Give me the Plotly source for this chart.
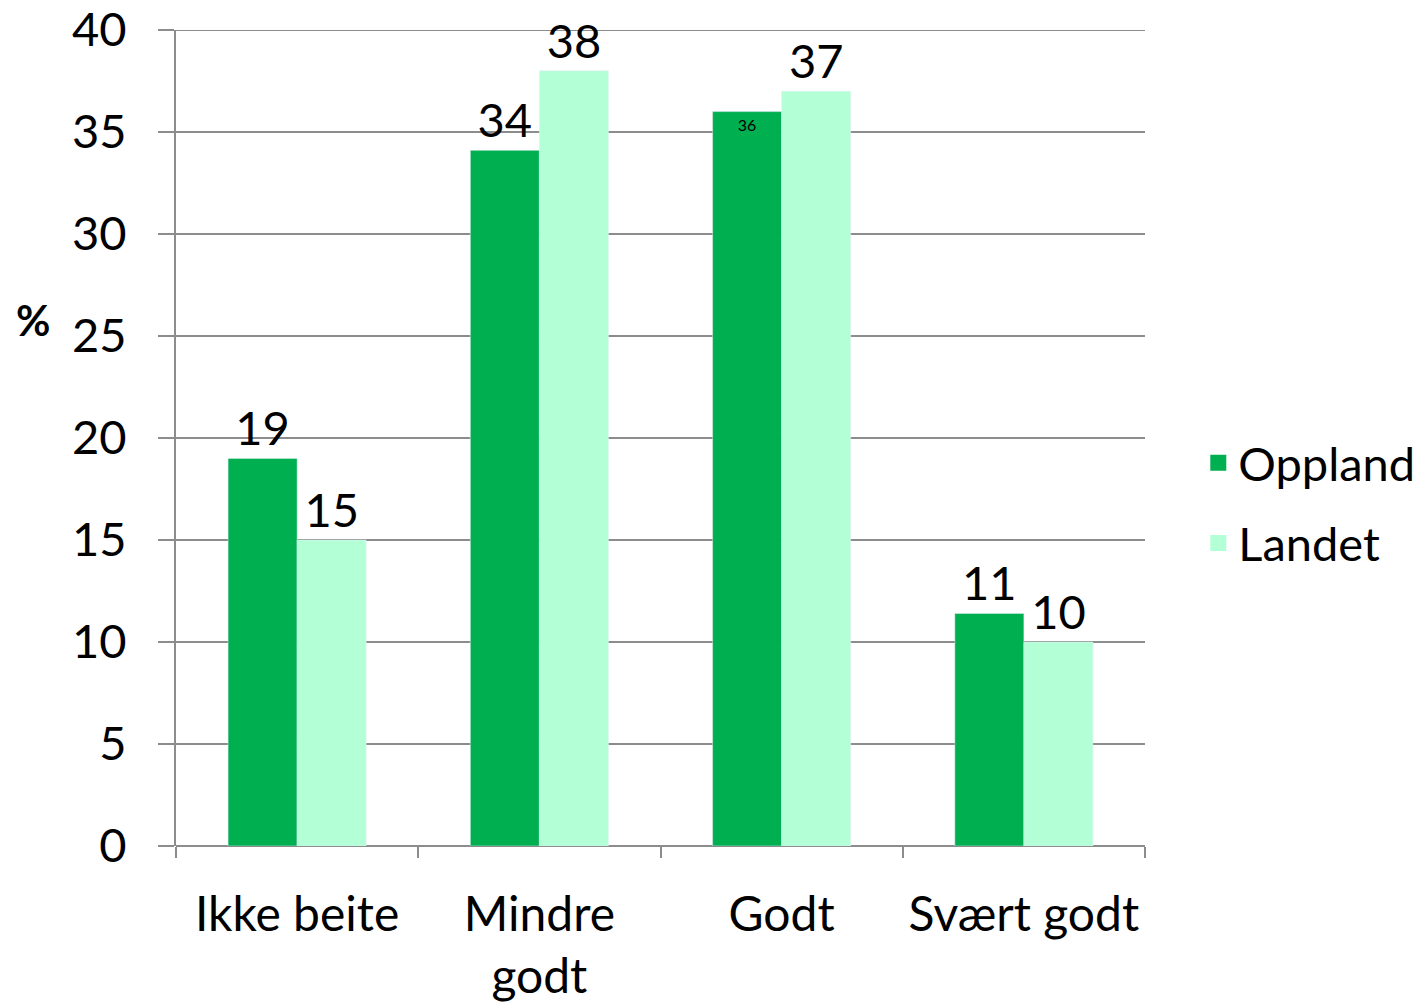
import plotly.graph_objects as go

categories = ["Ikke beite", "Mindre<br>godt", "Godt", "Svært godt"]
oppland = [19, 34.1, 36, 11.4]
landet = [15, 38, 37, 10]
oppland_labels = ["19", "34", "36", "11"]
landet_labels = ["15", "38", "37", "10"]
y_ticks = [0, 5, 10, 15, 20, 25, 30, 35, 40]

FONT = "Lato"
C_OPP = "#00B050"
C_LAN = "#B3FFD6"
GRID = "#8C8C8C"

fig = go.Figure()
fig.add_trace(go.Bar(
    x=categories, y=oppland, name="Oppland", marker_color=C_OPP,
    text=oppland_labels,
    textposition=["outside", "outside", "inside", "outside"],
    insidetextanchor="end",
    textfont=dict(family=FONT, size=[47, 47, 16, 47], color="black"),
    cliponaxis=False, showlegend=False, legendgroup="a",
))
fig.add_trace(go.Bar(
    x=categories, y=landet, name="Landet", marker_color=C_LAN,
    text=landet_labels, textposition="outside",
    textfont=dict(family=FONT, size=47, color="black"),
    cliponaxis=False, showlegend=False, legendgroup="b",
))
# legend entries
fig.add_trace(go.Scatter(x=[None], y=[None], mode="markers", name="Oppland",
                         marker=dict(symbol="square", size=30, color=C_OPP), legendgroup="a"))
fig.add_trace(go.Scatter(x=[None], y=[None], mode="markers", name="Landet",
                         marker=dict(symbol="square", size=30, color=C_LAN), legendgroup="b"))

fig.update_layout(
    width=1428, height=1006,
    margin=dict(l=168, r=291, t=22, b=168, autoexpand=False),
    paper_bgcolor="white", plot_bgcolor="white",
    barmode="group", bargap=0.43, bargroupgap=0,
    font=dict(family=FONT, size=46, color="black"),
    legend=dict(x=1.055, xanchor="left", y=0.42, yanchor="middle",
                font=dict(family=FONT, size=47, color="black"),
                itemsizing="trace", tracegroupgap=16, traceorder="grouped"),
    xaxis=dict(showline=False, ticks="outside", tickson="boundaries",
               ticklen=11, tickcolor=GRID, tickwidth=2, automargin=False,
               ticklabelstandoff=36, ticklabeloverflow="allow",
               tickfont=dict(family=FONT, size=48), showgrid=False),
    yaxis=dict(range=[0, 40], tickvals=y_ticks, showline=True, linecolor=GRID, linewidth=2,
               showgrid=True, gridcolor=GRID, gridwidth=2, automargin=False,
               ticks="outside", ticklen=16, tickcolor=GRID, tickwidth=2,
               ticklabelstandoff=22, ticklabeloverflow="allow",
               tickfont=dict(family=FONT, size=47), zeroline=True, zerolinecolor=GRID, zerolinewidth=2),
    shapes=[dict(type="line", xref="paper", yref="y", x0=0, x1=1, y0=40, y1=40,
                 line=dict(color=GRID, width=2), layer="below")],
    annotations=[dict(text="<b>%</b>", xref="paper", yref="paper",
                      x=-0.148, y=0.645, xanchor="center", yanchor="middle",
                      showarrow=False, font=dict(family=FONT, size=42, color="black"))],
)
fig.write_html("out.html")
